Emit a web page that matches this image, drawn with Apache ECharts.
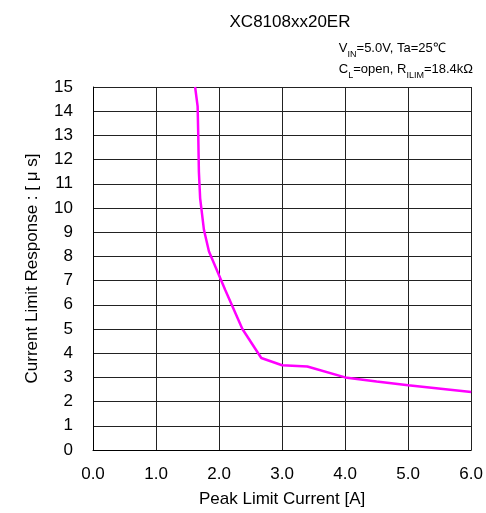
<!DOCTYPE html>
<html>
<head>
<meta charset="utf-8">
<title>XC8108xx20ER</title>
<script src="https://cdn.jsdelivr.net/npm/echarts@6/dist/echarts.min.js"></script>
<style>
  body { margin: 0; background: #fff; }
  #main { width: 486px; height: 513px; }
</style>
</head>
<body>
<div id="main"></div>
<script>
// peak limit current [A]
var current = [1.62, 1.66, 1.67, 1.68, 1.70, 1.76, 1.84, 2.10, 2.37, 2.67, 3.00, 3.40, 4.00, 4.50, 5.00, 6.00];
// current limit response [us]
var response = [15.0, 14.2, 13.0, 11.5, 10.4, 9.1, 8.2, 6.6, 5.0, 3.8, 3.5, 3.45, 3.0, 2.83, 2.68, 2.4];

var pts = [];
for (var i = 0; i < current.length; i++) {
  pts.push([current[i], response[i]]);
}

var font = 'Liberation Sans, Arial, sans-serif';
var chart = echarts.init(document.getElementById('main'));
chart.setOption({
  animation: false,
  textStyle: { fontFamily: font, color: '#000' },
  title: [
    {
      text: 'XC8108xx20ER',
      left: 285, top: 9, textAlign: 'center',
      textStyle: { fontSize: 17, fontWeight: 'normal', color: '#000', fontFamily: font }
    },
    {
      text: 'V{sub|IN}=5.0V, Ta=25℃\nC{sub|L}=open, R{sub|ILIM}=18.4kΩ',
      right: 8, top: 33,
      textStyle: {
        fontSize: 13, fontWeight: 'normal', color: '#000', fontFamily: font,
        align: 'right', lineHeight: 21,
        rich: { sub: { fontSize: 9, verticalAlign: 'bottom', lineHeight: 16, fontFamily: font } }
      }
    }
  ],
  grid: { left: 93, right: 13, top: 87, bottom: 61 },
  xAxis: {
    type: 'value', min: 0, max: 6, interval: 1,
    name: 'Peak Limit Current [A]', nameLocation: 'middle', nameGap: 41,
    nameTextStyle: { fontSize: 17, color: '#000' },
    axisLine: { lineStyle: { color: '#000', width: 1 } },
    axisTick: { show: false },
    axisLabel: { fontSize: 17, color: '#000', margin: 16, formatter: function (v) { return v.toFixed(1); } },
    splitLine: { lineStyle: { color: '#222', width: 1 } }
  },
  yAxis: {
    type: 'value', min: 0, max: 15, interval: 1,
    name: 'Current Limit Response : [ μ s]', nameLocation: 'middle', nameGap: 52,
    nameTextStyle: { fontSize: 17, color: '#000' },
    axisLine: { show: true, lineStyle: { color: '#000', width: 1 } },
    axisTick: { show: false },
    axisLabel: { fontSize: 17, color: '#000', margin: 20 },
    splitLine: { lineStyle: { color: '#222', width: 1 } }
  },
  series: [{
    type: 'line',
    data: pts,
    showSymbol: false,
    lineStyle: { color: '#ff00ff', width: 2.5 },
    itemStyle: { color: '#ff00ff' }
  }]
});
</script>
</body>
</html>
